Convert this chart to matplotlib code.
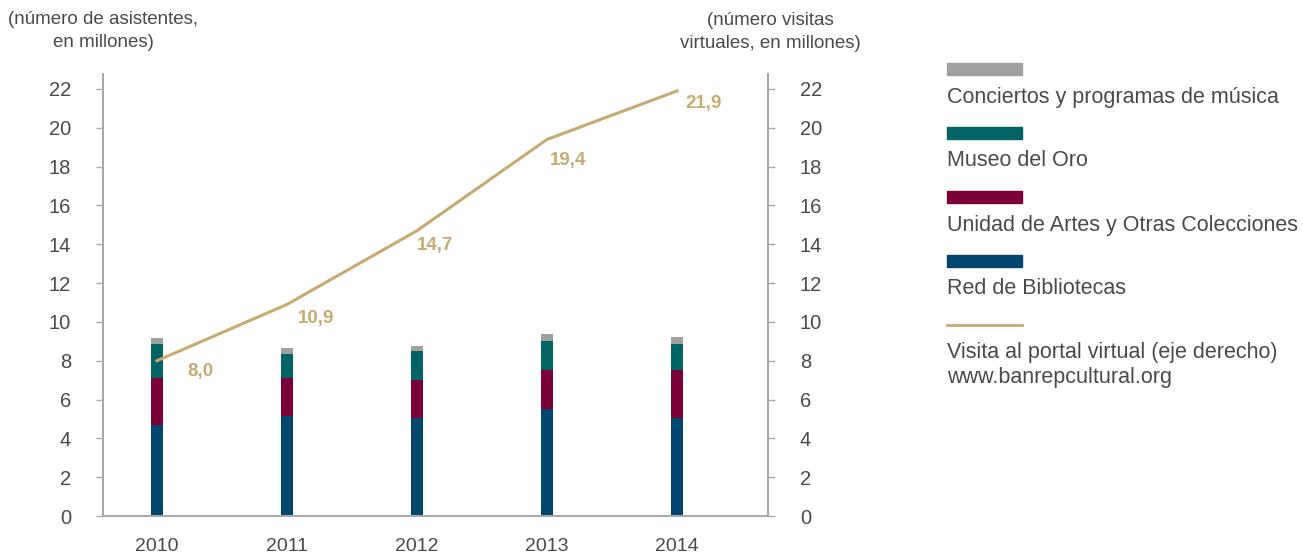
import matplotlib.pyplot as plt
import matplotlib.patches as mpatches
import matplotlib.lines as mlines
import numpy as np

plt.rcParams['font.family'] = ['Liberation Sans', 'DejaVu Sans']

years = ['2010', '2011', '2012', '2013', '2014']
bibliotecas = [4.67, 5.17, 5.03, 5.50, 5.03]
artes = [2.46, 1.96, 1.96, 2.04, 2.51]
museo_oro = [1.75, 1.23, 1.51, 1.49, 1.34]
conciertos = [0.31, 0.28, 0.24, 0.33, 0.33]
visitas = [8.0, 10.9, 14.7, 19.4, 21.9]
visitas_labels = ['8,0', '10,9', '14,7', '19,4', '21,9']

c_blue = '#00466f'
c_maroon = '#7a0036'
c_teal = '#006364'
c_gray = '#a0a0a0'
c_gold = '#c9aa72'
c_text = '#4a4a4a'
c_axis = '#a8a8a8'

fig = plt.figure(figsize=(13.03, 5.54), dpi=100)
ax = fig.add_axes([103 / 1303, 1 - 516 / 554, 665 / 1303, (516 - 74) / 554])

x = np.arange(len(years))
w = 0.097
b1 = np.array(bibliotecas)
b2 = b1 + np.array(artes)
b3 = b2 + np.array(museo_oro)
ax.bar(x, bibliotecas, w, color=c_blue)
ax.bar(x, artes, w, bottom=b1, color=c_maroon)
ax.bar(x, museo_oro, w, bottom=b2, color=c_teal)
ax.bar(x, conciertos, w, bottom=b3, color=c_gray)

ymax = 22 * (516 - 74) / (516 - 89)
ax.set_ylim(0, ymax)
ax.set_xlim(-(157 - 103) / 130, 4 + (768 - 677) / 130)
ax.set_yticks(range(0, 23, 2))
ax.set_xticks(x)
ax.set_xticklabels(years)

ax2 = ax.twinx()
ax2.set_ylim(0, ymax)
ax2.set_yticks(range(0, 23, 2))
ax2.plot(x, visitas, color=c_gold, lw=2.2)
# label offsets in points (dx, dy)
offs = [(22, -8), (8, -10), (0, -11), (2, -15), (6, -9)]
for xi, v, lab, o in zip(x, visitas, visitas_labels, offs):
    ax2.annotate(lab, (xi, v), xytext=o, textcoords='offset points',
                 ha='left', va='center', color=c_gold, fontsize=13.5,
                 fontweight='bold')

for a in (ax, ax2):
    for s in a.spines.values():
        s.set_visible(False)
    a.tick_params(axis='y', colors=c_axis, length=5, width=1, labelcolor=c_text,
                  labelsize=14.5, pad=18)
ax.spines['left'].set_visible(True)
ax.spines['bottom'].set_visible(True)
ax2.spines['right'].set_visible(True)
for s in (ax.spines['left'], ax.spines['bottom'], ax2.spines['right']):
    s.set_color(c_axis)
    s.set_linewidth(1.5)
ax.tick_params(axis='x', length=0, labelcolor=c_text, labelsize=14, pad=16)

fig.text(103 / 1303, 1 - 31 / 554, '(número de asistentes,\nen millones)',
         ha='center', va='center', color=c_text, fontsize=13.5, linespacing=1.45)
fig.text(770 / 1303, 1 - 32 / 554, '(número visitas\nvirtuales, en millones)',
         ha='center', va='center', color=c_text, fontsize=13.5, linespacing=1.4)

# legend drawn by hand
leg = [(c_gray, 'Conciertos y programas de música', 'patch'),
       (c_teal, 'Museo del Oro', 'patch'),
       (c_maroon, 'Unidad de Artes y Otras Colecciones', 'patch'),
       (c_blue, 'Red de Bibliotecas', 'patch'),
       (c_gold, 'Visita al portal virtual (eje derecho)\nwww.banrepcultural.org', 'line')]
lx0, lx1 = 947 / 1303, 1022 / 1303
for i, (c, t, kind) in enumerate(leg):
    yc = 1 - (69 + 64 * i) / 554
    if kind == 'patch':
        fig.add_artist(mpatches.Rectangle((lx0, yc - 6 / 554), lx1 - lx0, 12 / 554,
                                          color=c, transform=fig.transFigure))
        fig.text(lx0, yc - 28 / 554, t, ha='left', va='center', color=c_text,
                 fontsize=15.5)
    else:
        yc = 1 - 325 / 554
        fig.add_artist(mlines.Line2D([lx0, lx1], [yc, yc], color=c, lw=2,
                                     transform=fig.transFigure))
        fig.text(lx0, yc - 17 / 554, t, ha='left', va='top', color=c_text,
                 fontsize=15.5, linespacing=1.25)

fig.savefig('out.png', dpi=100)
